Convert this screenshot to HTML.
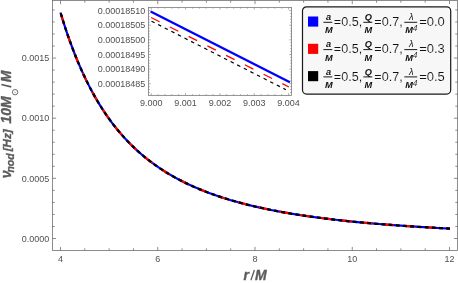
<!DOCTYPE html><html><head><meta charset="utf-8"><style>html,body{margin:0;padding:0;background:#fff;overflow:hidden}svg{display:block;will-change:transform}text{font-family:"Liberation Sans",sans-serif}</style></head><body>
<svg width="458" height="283" viewBox="0 0 458 283">
<rect width="458" height="283" fill="#fff"/>
<g fill="none" stroke-linecap="butt"><path d="M60.50,12.53 L62.93,20.50 L65.37,28.08 L67.80,35.30 L70.24,42.18 L72.67,48.74 L75.11,55.00 L77.54,60.97 L79.97,66.68 L82.41,72.14 L84.84,77.36 L87.28,82.35 L89.71,87.13 L92.15,91.71 L94.58,96.11 L97.02,100.32 L99.45,104.36 L101.88,108.24 L104.32,111.97 L106.75,115.55 L109.19,118.99 L111.62,122.30 L114.06,125.49 L116.49,128.55 L118.93,131.50 L121.36,134.35 L123.79,137.09 L126.23,139.73 L128.66,142.28 L131.10,144.74 L133.53,147.12 L135.97,149.41 L138.40,151.63 L140.83,153.77 L143.27,155.84 L145.70,157.84 L148.14,159.77 L150.57,161.64 L153.01,163.45 L155.44,165.21 L157.87,166.90 L160.31,168.55 L162.74,170.14 L165.18,171.69 L167.61,173.19 L170.05,174.64 L172.48,176.05 L174.92,177.41 L177.35,178.74 L179.78,180.03 L182.22,181.28 L184.65,182.49 L187.09,183.67 L189.52,184.82 L191.96,185.93 L194.39,187.02 L196.82,188.07 L199.26,189.10 L201.69,190.09 L204.13,191.06 L206.56,192.01 L209.00,192.92 L211.43,193.82 L213.87,194.69 L216.30,195.54 L218.73,196.36 L221.17,197.17 L223.60,197.95 L226.04,198.72 L228.47,199.46 L230.91,200.19 L233.34,200.90 L235.78,201.59 L238.21,202.27 L240.64,202.93 L243.08,203.57 L245.51,204.19 L247.95,204.81 L250.38,205.40 L252.82,205.99 L255.25,206.56 L257.68,207.12 L260.12,207.66 L262.55,208.19 L264.99,208.71 L267.42,209.22 L269.86,209.71 L272.29,210.20 L274.72,210.67 L277.16,211.14 L279.59,211.59 L282.03,212.04 L284.46,212.47 L286.90,212.89 L289.33,213.31 L291.77,213.72 L294.20,214.12 L296.63,214.51 L299.07,214.89 L301.50,215.26 L303.94,215.63 L306.37,215.99 L308.81,216.34 L311.24,216.68 L313.68,217.02 L316.11,217.35 L318.54,217.67 L320.98,217.99 L323.41,218.30 L325.85,218.61 L328.28,218.90 L330.72,219.20 L333.15,219.48 L335.58,219.77 L338.02,220.04 L340.45,220.31 L342.89,220.58 L345.32,220.84 L347.76,221.10 L350.19,221.35 L352.62,221.59 L355.06,221.83 L357.49,222.07 L359.93,222.31 L362.36,222.53 L364.80,222.76 L367.23,222.98 L369.67,223.20 L372.10,223.41 L374.53,223.62 L376.97,223.82 L379.40,224.02 L381.84,224.22 L384.27,224.42 L386.71,224.61 L389.14,224.79 L391.57,224.98 L394.01,225.16 L396.44,225.34 L398.88,225.51 L401.31,225.68 L403.75,225.85 L406.18,226.02 L408.62,226.18 L411.05,226.34 L413.48,226.50 L415.92,226.66 L418.35,226.81 L420.79,226.96 L423.22,227.11 L425.66,227.25 L428.09,227.40 L430.53,227.54 L432.96,227.68 L435.39,227.81 L437.83,227.95 L440.26,228.08 L442.70,228.21 L445.13,228.34 L447.57,228.46 L450.00,228.59" stroke="#0000ff" stroke-width="2.15"/>
<path d="M60.50,12.53 L62.93,20.50 L65.37,28.08 L67.80,35.30 L70.24,42.18 L72.67,48.74 L75.11,55.00 L77.54,60.97 L79.97,66.68 L82.41,72.14 L84.84,77.36 L87.28,82.35 L89.71,87.13 L92.15,91.71 L94.58,96.11 L97.02,100.32 L99.45,104.36 L101.88,108.24 L104.32,111.97 L106.75,115.55 L109.19,118.99 L111.62,122.30 L114.06,125.49 L116.49,128.55 L118.93,131.50 L121.36,134.35 L123.79,137.09 L126.23,139.73 L128.66,142.28 L131.10,144.74 L133.53,147.12 L135.97,149.41 L138.40,151.63 L140.83,153.77 L143.27,155.84 L145.70,157.84 L148.14,159.77 L150.57,161.64 L153.01,163.45 L155.44,165.21 L157.87,166.90 L160.31,168.55 L162.74,170.14 L165.18,171.69 L167.61,173.19 L170.05,174.64 L172.48,176.05 L174.92,177.41 L177.35,178.74 L179.78,180.03 L182.22,181.28 L184.65,182.49 L187.09,183.67 L189.52,184.82 L191.96,185.93 L194.39,187.02 L196.82,188.07 L199.26,189.10 L201.69,190.09 L204.13,191.06 L206.56,192.01 L209.00,192.92 L211.43,193.82 L213.87,194.69 L216.30,195.54 L218.73,196.36 L221.17,197.17 L223.60,197.95 L226.04,198.72 L228.47,199.46 L230.91,200.19 L233.34,200.90 L235.78,201.59 L238.21,202.27 L240.64,202.93 L243.08,203.57 L245.51,204.19 L247.95,204.81 L250.38,205.40 L252.82,205.99 L255.25,206.56 L257.68,207.12 L260.12,207.66 L262.55,208.19 L264.99,208.71 L267.42,209.22 L269.86,209.71 L272.29,210.20 L274.72,210.67 L277.16,211.14 L279.59,211.59 L282.03,212.04 L284.46,212.47 L286.90,212.89 L289.33,213.31 L291.77,213.72 L294.20,214.12 L296.63,214.51 L299.07,214.89 L301.50,215.26 L303.94,215.63 L306.37,215.99 L308.81,216.34 L311.24,216.68 L313.68,217.02 L316.11,217.35 L318.54,217.67 L320.98,217.99 L323.41,218.30 L325.85,218.61 L328.28,218.90 L330.72,219.20 L333.15,219.48 L335.58,219.77 L338.02,220.04 L340.45,220.31 L342.89,220.58 L345.32,220.84 L347.76,221.10 L350.19,221.35 L352.62,221.59 L355.06,221.83 L357.49,222.07 L359.93,222.31 L362.36,222.53 L364.80,222.76 L367.23,222.98 L369.67,223.20 L372.10,223.41 L374.53,223.62 L376.97,223.82 L379.40,224.02 L381.84,224.22 L384.27,224.42 L386.71,224.61 L389.14,224.79 L391.57,224.98 L394.01,225.16 L396.44,225.34 L398.88,225.51 L401.31,225.68 L403.75,225.85 L406.18,226.02 L408.62,226.18 L411.05,226.34 L413.48,226.50 L415.92,226.66 L418.35,226.81 L420.79,226.96 L423.22,227.11 L425.66,227.25 L428.09,227.40 L430.53,227.54 L432.96,227.68 L435.39,227.81 L437.83,227.95 L440.26,228.08 L442.70,228.21 L445.13,228.34 L447.57,228.46 L450.00,228.59" stroke="#ff0000" stroke-width="2.25" stroke-dasharray="10 11" stroke-dashoffset="19.3"/>
<path d="M60.50,12.53 L62.93,20.50 L65.37,28.08 L67.80,35.30 L70.24,42.18 L72.67,48.74 L75.11,55.00 L77.54,60.97 L79.97,66.68 L82.41,72.14 L84.84,77.36 L87.28,82.35 L89.71,87.13 L92.15,91.71 L94.58,96.11 L97.02,100.32 L99.45,104.36 L101.88,108.24 L104.32,111.97 L106.75,115.55 L109.19,118.99 L111.62,122.30 L114.06,125.49 L116.49,128.55 L118.93,131.50 L121.36,134.35 L123.79,137.09 L126.23,139.73 L128.66,142.28 L131.10,144.74 L133.53,147.12 L135.97,149.41 L138.40,151.63 L140.83,153.77 L143.27,155.84 L145.70,157.84 L148.14,159.77 L150.57,161.64 L153.01,163.45 L155.44,165.21 L157.87,166.90 L160.31,168.55 L162.74,170.14 L165.18,171.69 L167.61,173.19 L170.05,174.64 L172.48,176.05 L174.92,177.41 L177.35,178.74 L179.78,180.03 L182.22,181.28 L184.65,182.49 L187.09,183.67 L189.52,184.82 L191.96,185.93 L194.39,187.02 L196.82,188.07 L199.26,189.10 L201.69,190.09 L204.13,191.06 L206.56,192.01 L209.00,192.92 L211.43,193.82 L213.87,194.69 L216.30,195.54 L218.73,196.36 L221.17,197.17 L223.60,197.95 L226.04,198.72 L228.47,199.46 L230.91,200.19 L233.34,200.90 L235.78,201.59 L238.21,202.27 L240.64,202.93 L243.08,203.57 L245.51,204.19 L247.95,204.81 L250.38,205.40 L252.82,205.99 L255.25,206.56 L257.68,207.12 L260.12,207.66 L262.55,208.19 L264.99,208.71 L267.42,209.22 L269.86,209.71 L272.29,210.20 L274.72,210.67 L277.16,211.14 L279.59,211.59 L282.03,212.04 L284.46,212.47 L286.90,212.89 L289.33,213.31 L291.77,213.72 L294.20,214.12 L296.63,214.51 L299.07,214.89 L301.50,215.26 L303.94,215.63 L306.37,215.99 L308.81,216.34 L311.24,216.68 L313.68,217.02 L316.11,217.35 L318.54,217.67 L320.98,217.99 L323.41,218.30 L325.85,218.61 L328.28,218.90 L330.72,219.20 L333.15,219.48 L335.58,219.77 L338.02,220.04 L340.45,220.31 L342.89,220.58 L345.32,220.84 L347.76,221.10 L350.19,221.35 L352.62,221.59 L355.06,221.83 L357.49,222.07 L359.93,222.31 L362.36,222.53 L364.80,222.76 L367.23,222.98 L369.67,223.20 L372.10,223.41 L374.53,223.62 L376.97,223.82 L379.40,224.02 L381.84,224.22 L384.27,224.42 L386.71,224.61 L389.14,224.79 L391.57,224.98 L394.01,225.16 L396.44,225.34 L398.88,225.51 L401.31,225.68 L403.75,225.85 L406.18,226.02 L408.62,226.18 L411.05,226.34 L413.48,226.50 L415.92,226.66 L418.35,226.81 L420.79,226.96 L423.22,227.11 L425.66,227.25 L428.09,227.40 L430.53,227.54 L432.96,227.68 L435.39,227.81 L437.83,227.95 L440.26,228.08 L442.70,228.21 L445.13,228.34 L447.57,228.46 L450.00,228.59" stroke="#000" stroke-width="2.35" stroke-dasharray="3.95 3.266" stroke-dashoffset="6.216"/></g>
<g stroke="#707070" stroke-width="0.8" fill="none">
<rect x="52.5" y="0.5" width="405.0" height="250.0"/>
<path d="M60.50,250.5v-3.6M60.50,0.5v3.6M84.81,250.5v-2.2M84.81,0.5v2.2M109.12,250.5v-2.2M109.12,0.5v2.2M133.44,250.5v-2.2M133.44,0.5v2.2M157.75,250.5v-3.6M157.75,0.5v3.6M182.06,250.5v-2.2M182.06,0.5v2.2M206.38,250.5v-2.2M206.38,0.5v2.2M230.69,250.5v-2.2M230.69,0.5v2.2M255.00,250.5v-3.6M255.00,0.5v3.6M279.31,250.5v-2.2M279.31,0.5v2.2M303.62,250.5v-2.2M303.62,0.5v2.2M327.94,250.5v-2.2M327.94,0.5v2.2M352.25,250.5v-3.6M352.25,0.5v3.6M376.56,250.5v-2.2M376.56,0.5v2.2M400.88,250.5v-2.2M400.88,0.5v2.2M425.19,250.5v-2.2M425.19,0.5v2.2M449.50,250.5v-3.6M449.50,0.5v3.6M52.5,238.50h3.6M457.5,238.50h-3.6M52.5,226.47h2.2M457.5,226.47h-2.2M52.5,214.44h2.2M457.5,214.44h-2.2M52.5,202.41h2.2M457.5,202.41h-2.2M52.5,190.38h2.2M457.5,190.38h-2.2M52.5,178.35h3.6M457.5,178.35h-3.6M52.5,166.32h2.2M457.5,166.32h-2.2M52.5,154.29h2.2M457.5,154.29h-2.2M52.5,142.26h2.2M457.5,142.26h-2.2M52.5,130.23h2.2M457.5,130.23h-2.2M52.5,118.20h3.6M457.5,118.20h-3.6M52.5,106.17h2.2M457.5,106.17h-2.2M52.5,94.14h2.2M457.5,94.14h-2.2M52.5,82.11h2.2M457.5,82.11h-2.2M52.5,70.08h2.2M457.5,70.08h-2.2M52.5,58.05h3.6M457.5,58.05h-3.6M52.5,46.02h2.2M457.5,46.02h-2.2M52.5,33.99h2.2M457.5,33.99h-2.2M52.5,21.96h2.2M457.5,21.96h-2.2M52.5,9.93h2.2M457.5,9.93h-2.2"/>
</g>
<g font-size="9" fill="#505050">
<text x="60.5" y="261.8" text-anchor="middle">4</text>
<text x="157.8" y="261.8" text-anchor="middle">6</text>
<text x="255.0" y="261.8" text-anchor="middle">8</text>
<text x="352.2" y="261.8" text-anchor="middle">10</text>
<text x="449.5" y="261.8" text-anchor="middle">12</text>
<text x="49.2" y="241.7" text-anchor="end">0.0000</text>
<text x="49.2" y="181.5" text-anchor="end">0.0005</text>
<text x="49.2" y="121.4" text-anchor="end">0.0010</text>
<text x="49.2" y="61.2" text-anchor="end">0.0015</text>
</g>
<g font-size="13" font-weight="bold" font-style="italic" fill="#5c5c5c" stroke="#5c5c5c" stroke-width="0.35">
<text x="243.4" y="280" font-size="14">r</text><path d="M250.9,280.3 L254.4,270" stroke-width="1.3" fill="none"/><text x="255" y="280" font-size="14">M</text>
<g transform="translate(11.3,178.2) rotate(-90)">
<text x="0" y="0" font-size="14">ν</text>
<text x="5.6" y="2.9" font-size="10.5">nod</text>
<text x="26.9" y="-0.6" font-size="11.6">[Hz]</text>
<text x="54.6" y="0" font-size="14">10M</text>
<g transform="translate(86,3.8)" fill="none" stroke="#5c5c5c" stroke-width="0.9"><circle r="2.7"/><circle r="0.55" fill="#5c5c5c" stroke="none"/></g>
<path d="M91.3,0 L93.7,-10" stroke="#5c5c5c" stroke-width="1.7" fill="none"/><text x="96" y="0" font-size="14">M</text>
</g>
</g>
<rect x="148.5" y="7.4" width="143.0" height="88.0" fill="#fff" stroke="#808080" stroke-width="0.85"/>
<path d="M151.20,95.4v-2.2M151.20,7.4v2.2M158.07,95.4v-1.3M158.07,7.4v1.3M164.94,95.4v-1.3M164.94,7.4v1.3M171.81,95.4v-1.3M171.81,7.4v1.3M178.68,95.4v-1.3M178.68,7.4v1.3M185.55,95.4v-2.2M185.55,7.4v2.2M192.42,95.4v-1.3M192.42,7.4v1.3M199.29,95.4v-1.3M199.29,7.4v1.3M206.16,95.4v-1.3M206.16,7.4v1.3M213.03,95.4v-1.3M213.03,7.4v1.3M219.90,95.4v-2.2M219.90,7.4v2.2M226.77,95.4v-1.3M226.77,7.4v1.3M233.64,95.4v-1.3M233.64,7.4v1.3M240.51,95.4v-1.3M240.51,7.4v1.3M247.38,95.4v-1.3M247.38,7.4v1.3M254.25,95.4v-2.2M254.25,7.4v2.2M261.12,95.4v-1.3M261.12,7.4v1.3M267.99,95.4v-1.3M267.99,7.4v1.3M274.86,95.4v-1.3M274.86,7.4v1.3M281.73,95.4v-1.3M281.73,7.4v1.3M288.60,95.4v-2.2M288.60,7.4v2.2M148.5,7.68h1.3M291.5,7.68h-1.3M148.5,10.60h2.2M291.5,10.60h-2.2M148.5,13.52h1.3M291.5,13.52h-1.3M148.5,16.45h1.3M291.5,16.45h-1.3M148.5,19.37h1.3M291.5,19.37h-1.3M148.5,22.30h1.3M291.5,22.30h-1.3M148.5,25.22h2.2M291.5,25.22h-2.2M148.5,28.14h1.3M291.5,28.14h-1.3M148.5,31.07h1.3M291.5,31.07h-1.3M148.5,33.99h1.3M291.5,33.99h-1.3M148.5,36.92h1.3M291.5,36.92h-1.3M148.5,39.84h2.2M291.5,39.84h-2.2M148.5,42.76h1.3M291.5,42.76h-1.3M148.5,45.69h1.3M291.5,45.69h-1.3M148.5,48.61h1.3M291.5,48.61h-1.3M148.5,51.54h1.3M291.5,51.54h-1.3M148.5,54.46h2.2M291.5,54.46h-2.2M148.5,57.38h1.3M291.5,57.38h-1.3M148.5,60.31h1.3M291.5,60.31h-1.3M148.5,63.23h1.3M291.5,63.23h-1.3M148.5,66.16h1.3M291.5,66.16h-1.3M148.5,69.08h2.2M291.5,69.08h-2.2M148.5,72.00h1.3M291.5,72.00h-1.3M148.5,74.93h1.3M291.5,74.93h-1.3M148.5,77.85h1.3M291.5,77.85h-1.3M148.5,80.78h1.3M291.5,80.78h-1.3M148.5,83.70h2.2M291.5,83.70h-2.2M148.5,86.62h1.3M291.5,86.62h-1.3M148.5,89.55h1.3M291.5,89.55h-1.3M148.5,92.47h1.3M291.5,92.47h-1.3" stroke="#808080" stroke-width="0.65" fill="none"/>
<g fill="none">
<path d="M150.6,11.5 L289.9,82.2" stroke="#0000ff" stroke-width="2.4"/>
<path d="M151.1,17.5 L288.9,87" stroke="#ff0000" stroke-width="1.3" stroke-dasharray="9.5 11.5"/>
<path d="M151.5,21.2 L285.9,89.7" stroke="#000" stroke-width="1.2" stroke-dasharray="3.5 3.9"/>
</g>
<g font-size="9" fill="#505050">
<text x="151.2" y="106.3" text-anchor="middle">9.000</text>
<text x="185.5" y="106.3" text-anchor="middle">9.001</text>
<text x="219.9" y="106.3" text-anchor="middle">9.002</text>
<text x="254.2" y="106.3" text-anchor="middle">9.003</text>
<text x="288.6" y="106.3" text-anchor="middle">9.004</text>
<text x="145.3" y="13.8" text-anchor="end">0.00018510</text>
<text x="145.3" y="28.4" text-anchor="end">0.00018505</text>
<text x="145.3" y="43.0" text-anchor="end">0.00018500</text>
<text x="145.3" y="57.7" text-anchor="end">0.00018495</text>
<text x="145.3" y="72.3" text-anchor="end">0.00018490</text>
<text x="145.3" y="86.9" text-anchor="end">0.00018485</text>
</g>
<rect x="302.5" y="6.8" width="148.2" height="87.3" rx="4" ry="4" fill="#f7f7f7" stroke="#1a1a1a" stroke-width="1.2"/>
<rect x="308" y="16.5" width="10.2" height="10.1" fill="#0000ff"/>
<g fill="#111"><g font-size="12" stroke="#f7f7f7" stroke-width="0.12"><text x="333.8" y="26.0" textLength="28.37" lengthAdjust="spacingAndGlyphs">=0.5,</text><text x="374.3" y="26.0" textLength="28.37" lengthAdjust="spacingAndGlyphs">=0.7,</text><text x="419.2" y="26.0" textLength="25.67" lengthAdjust="spacingAndGlyphs">=0.0</text></g>
<g font-size="9.2" font-weight="bold" font-style="italic" text-anchor="middle"><text x="328.5" y="20.1">a</text><text x="328.8" y="33.3">M</text><text x="368.3" y="20.1">Q</text><text x="368.4" y="33.3">M</text><text x="411.2" y="20.1" font-weight="normal">λ</text><text x="409.2" y="33.3">M</text><text x="415.1" y="31.1" font-size="8.4" font-weight="normal" fill="#333">4</text></g>
<path d="M323.4,22.30h8.9M363.3,22.30h9M404.3,22.30h12.9" stroke="#000" stroke-width="0.9"/></g>
<rect x="308" y="43.8" width="10.2" height="10.1" fill="#ff0000"/>
<g fill="#111"><g font-size="12" stroke="#f7f7f7" stroke-width="0.12"><text x="333.8" y="53.3" textLength="28.37" lengthAdjust="spacingAndGlyphs">=0.5,</text><text x="374.3" y="53.3" textLength="28.37" lengthAdjust="spacingAndGlyphs">=0.7,</text><text x="419.2" y="53.3" textLength="25.67" lengthAdjust="spacingAndGlyphs">=0.3</text></g>
<g font-size="9.2" font-weight="bold" font-style="italic" text-anchor="middle"><text x="328.5" y="47.4">a</text><text x="328.8" y="60.6">M</text><text x="368.3" y="47.4">Q</text><text x="368.4" y="60.6">M</text><text x="411.2" y="47.4" font-weight="normal">λ</text><text x="409.2" y="60.6">M</text><text x="415.1" y="58.4" font-size="8.4" font-weight="normal" fill="#333">4</text></g>
<path d="M323.4,49.60h8.9M363.3,49.60h9M404.3,49.60h12.9" stroke="#000" stroke-width="0.9"/></g>
<rect x="308" y="71.1" width="10.2" height="10.1" fill="#000"/>
<g fill="#111"><g font-size="12" stroke="#f7f7f7" stroke-width="0.12"><text x="333.8" y="80.6" textLength="28.37" lengthAdjust="spacingAndGlyphs">=0.5,</text><text x="374.3" y="80.6" textLength="28.37" lengthAdjust="spacingAndGlyphs">=0.7,</text><text x="419.2" y="80.6" textLength="25.67" lengthAdjust="spacingAndGlyphs">=0.5</text></g>
<g font-size="9.2" font-weight="bold" font-style="italic" text-anchor="middle"><text x="328.5" y="74.7">a</text><text x="328.8" y="87.9">M</text><text x="368.3" y="74.7">Q</text><text x="368.4" y="87.9">M</text><text x="411.2" y="74.7" font-weight="normal">λ</text><text x="409.2" y="87.9">M</text><text x="415.1" y="85.7" font-size="8.4" font-weight="normal" fill="#333">4</text></g>
<path d="M323.4,76.90h8.9M363.3,76.90h9M404.3,76.90h12.9" stroke="#000" stroke-width="0.9"/></g>
</svg></body></html>
